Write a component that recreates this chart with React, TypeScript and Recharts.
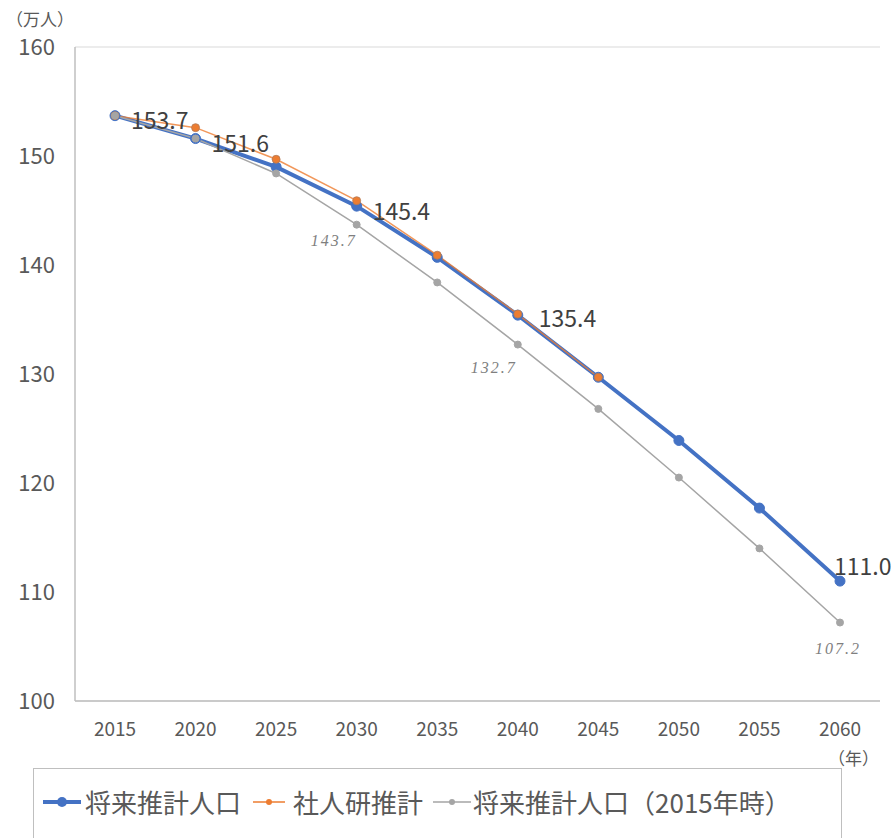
import React from 'react'
import { LineChart, Line, XAxis, YAxis, CartesianGrid, LabelList } from 'recharts'

const years = ['2015', '2020', '2025', '2030', '2035', '2040', '2045', '2050', '2055', '2060']
const projected = [153.7, 151.6, 149.0, 145.4, 140.7, 135.4, 129.7, 123.9, 117.7, 111.0]
const ipss = [153.7, 152.6, 149.7, 145.9, 140.9, 135.5, 129.7, null, null, null]
const projected2015 = [153.7, 151.6, 148.4, 143.7, 138.4, 132.7, 126.8, 120.5, 114.0, 107.2]
const yTicks = [100, 110, 120, 130, 140, 150, 160]
const seriesNames = ['将来推計人口', '社人研推計', '将来推計人口（2015年時）']

const blueLabelIdx = [0, 1, 3, 5, 9]
const grayLabelIdx = [3, 5, 9]

const data = years.map((y, i) => ({
  year: y,
  projected: projected[i],
  ipss: ipss[i],
  projected2015: projected2015[i]
}))

const BLUE = '#4472C4'
const ORANGE = '#ED7D31'
const GRAY = '#A5A5A5'
const TEXT = '#595959'
const jp = '"Noto Sans CJK JP", "Noto Sans", sans-serif'

// label offsets (dx, dy) relative to the point
const blueOffsets: Record<number, [number, number]> = {
  0: [16, 3],
  1: [16, 3],
  3: [16, 4],
  5: [21, 2],
  9: [-6, -16]
}
const grayOffsets: Record<number, [number, number]> = {
  3: [-23, 16],
  5: [-24, 23],
  9: [-2, 26]
}

const BlueLabel = (props: any) => {
  const { x, y, value, index } = props
  if (!blueLabelIdx.includes(index)) return null
  const [dx, dy] = blueOffsets[index]
  return (
    <text x={x + dx} y={y + dy} fill="#404040" fontSize={23} fontFamily={jp}
      textAnchor="start" dominantBaseline="central">
      {Number(value).toFixed(1)}
    </text>
  )
}

const GrayLabel = (props: any) => {
  const { x, y, value, index } = props
  if (!grayLabelIdx.includes(index)) return null
  const [dx, dy] = grayOffsets[index]
  return (
    <text x={x + dx} y={y + dy} fill="#7f7f7f" fontSize={16} fontStyle="italic"
      fontFamily='"Liberation Serif", "DejaVu Serif", serif' letterSpacing={2}
      textAnchor="middle" dominantBaseline="central">
      {Number(value).toFixed(1)}
    </text>
  )
}

const LegendIcon = ({ color, thick, r, w }: { color: string; thick: number; r: number; w: number }) => (
  <svg width={w} height={20} style={{ verticalAlign: 'middle', flex: 'none' }}>
    <line x1={0} y1={10} x2={w} y2={10} stroke={color} strokeWidth={thick} />
    <circle cx={w / 2} cy={10} r={r} fill={color} />
  </svg>
)

export default function App() {
  return (
    <div style={{ position: 'absolute', left: 0, top: 0, width: 893, height: 838, background: '#fff', overflow: 'hidden' }}>
      <LineChart width={893} height={838} data={data}
        margin={{ top: 47, right: 13, bottom: 107, left: 0 }}>
        <CartesianGrid vertical={false} stroke="#d9d9d9" strokeWidth={1} />
        <XAxis dataKey="year" padding={{ left: 40, right: 40 }} tickLine={false}
          axisLine={{ stroke: '#bfbfbf', strokeWidth: 1.5 }} tickMargin={16}
          tick={{ fill: TEXT, fontSize: 19, fontFamily: jp }} interval={0} />
        <YAxis yAxisId="left" domain={[100, 160]} ticks={yTicks} width={75} tickLine={false}
          axisLine={{ stroke: '#bfbfbf', strokeWidth: 1.5 }} tickMargin={14}
          tick={{ fill: TEXT, fontSize: 22, fontFamily: jp }} />
        <YAxis yAxisId="right" orientation="right" domain={[100, 160]} ticks={yTicks} width={0}
          tick={false} tickLine={false} axisLine={{ stroke: '#bfbfbf', strokeWidth: 1.5 }} />
        <Line yAxisId="left" dataKey="projected" stroke={BLUE} strokeWidth={4}
          dot={{ r: 5, fill: BLUE, stroke: BLUE, strokeWidth: 1 }} isAnimationActive={false}>
          <LabelList dataKey="projected" content={BlueLabel} />
        </Line>
        <Line yAxisId="left" dataKey="ipss" stroke={ORANGE} strokeWidth={1.5} strokeOpacity={0.8}
          dot={{ r: 4, fill: ORANGE, stroke: '#b07a5a', strokeWidth: 1 }} isAnimationActive={false} />
        <Line yAxisId="left" dataKey="projected2015" stroke={GRAY} strokeWidth={1.5}
          dot={{ r: 3.5, fill: GRAY, stroke: GRAY, strokeWidth: 1 }} isAnimationActive={false}>
          <LabelList dataKey="projected2015" content={GrayLabel} />
        </Line>
        <text x={6} y={18} fill={TEXT} fontSize={17} fontFamily={jp} dominantBaseline="central">（万人）</text>
        <text x={828} y={757} fill={TEXT} fontSize={17} fontFamily={jp} dominantBaseline="central">（年）</text>
      </LineChart>
      <div style={{
        position: 'absolute', left: 33, top: 768, width: 809, height: 100,
        border: '1.5px solid #bfbfbf', boxSizing: 'border-box', fontFamily: jp,
        fontSize: 26, color: TEXT
      }}>
        <div style={{ position: 'absolute', top: 17, left: 9, whiteSpace: 'nowrap', display: 'flex', alignItems: 'center', lineHeight: '32px' }}>
          <LegendIcon color={BLUE} thick={4} r={5} w={38} />
          <span style={{ marginLeft: 4, marginRight: 12 }}>{seriesNames[0]}</span>
          <LegendIcon color={ORANGE} thick={1.5} r={3} w={32} />
          <span style={{ marginLeft: 8, marginRight: 10 }}>{seriesNames[1]}</span>
          <LegendIcon color={GRAY} thick={1.5} r={3} w={38} />
          <span style={{ marginLeft: 2 }}>{seriesNames[2]}</span>
        </div>
      </div>
    </div>
  )
}
